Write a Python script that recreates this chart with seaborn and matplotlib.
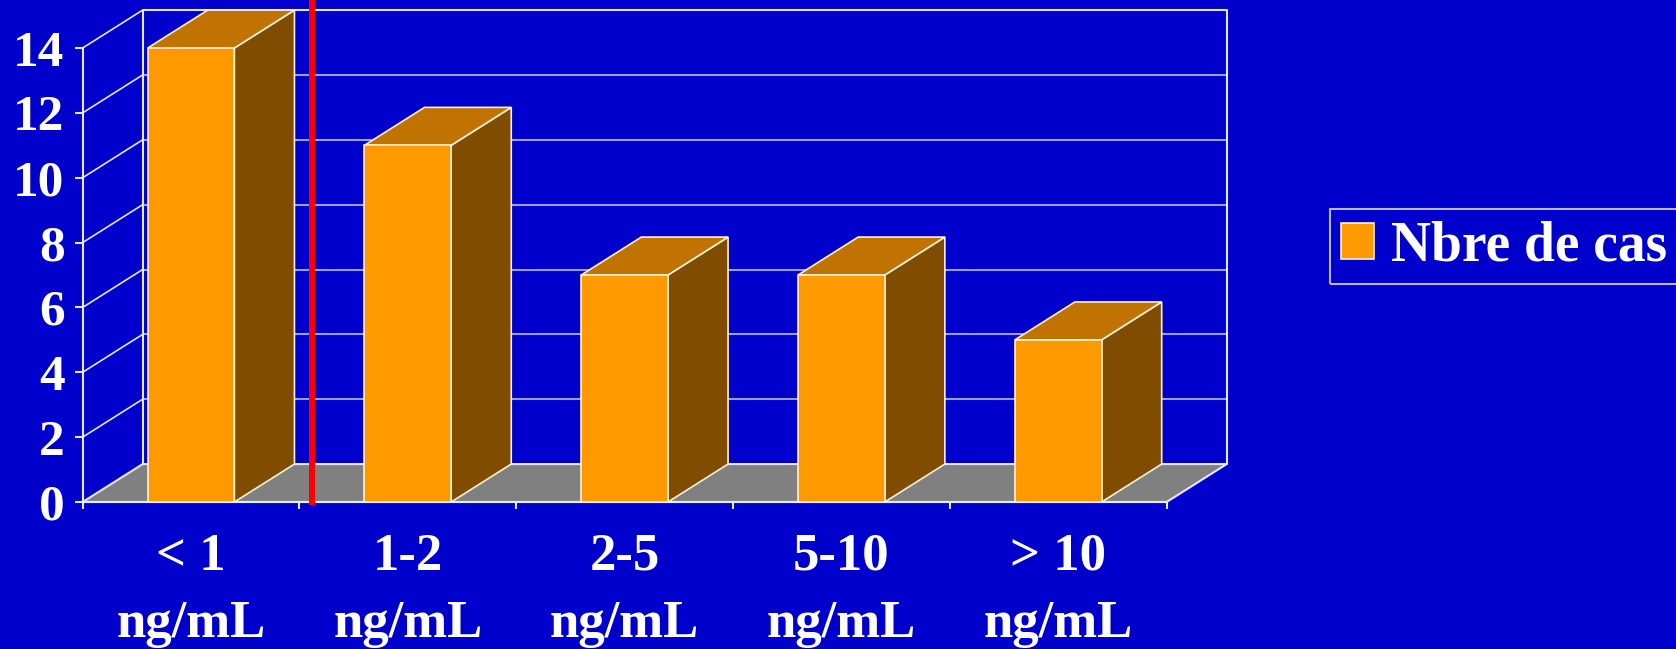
import numpy as np
import pandas as pd
import matplotlib
matplotlib.use('Agg')
import matplotlib.pyplot as plt
from matplotlib.patches import Polygon
import seaborn as sns

# data
categories = ['< 1\nng/mL', '1-2\nng/mL', '2-5\nng/mL', '5-10\nng/mL', '> 10\nng/mL']
counts = [14, 11, 7, 7, 5]
y_ticks = [0, 2, 4, 6, 8, 10, 12, 14]
series_name = 'Nbre de cas'
cutoff_pos = 0.56  # red separator between "< 1" and "1-2"

# colours
BG = '#0000CC'
FRONT = '#FF9900'
TOP = '#C07300'
SIDE = '#804C00'
FLOOR = '#808080'
GRID = '#9C9CFF'
FRAME = '#E6E6FF'
EDGE = '#FFF0D8'

# fake 3D depth, in data units (x: categories, y: counts)
DX, DY = 0.277, 1.17

sns.set_theme(style='white')
plt.rcParams['font.family'] = ['Liberation Serif', 'DejaVu Serif']
plt.rcParams['font.weight'] = 'bold'

fig = plt.figure(figsize=(16.76, 6.49), dpi=100, facecolor=BG)
ax = fig.add_axes([0.0493, 0.2265, 0.6468, 0.6995])
ax.set_facecolor('none')

df = pd.DataFrame({'range': categories, 'cas': counts})
sns.barplot(data=df, x='range', y='cas', color=FRONT, saturation=1, width=0.4,
            edgecolor=EDGE, linewidth=1.2, label=series_name, ax=ax, zorder=5)
if ax.get_legend() is not None:
    ax.get_legend().remove()

xmin, xmax = -0.5, len(categories) - 0.5
ymax = y_ticks[-1]
ax.set_xlim(xmin, xmax)
ax.set_ylim(0, ymax)

# floor
floor = Polygon([(xmin, 0), (xmax, 0), (xmax + DX, DY), (xmin + DX, DY)],
                closed=True, facecolor=FLOOR, edgecolor=FRAME, lw=1.5,
                zorder=1, clip_on=False)
ax.add_patch(floor)

# back wall grid + left wall diagonals
for v in y_ticks[1:-1]:
    ax.plot([xmin + DX, xmax + DX], [v + DY, v + DY], color=GRID, lw=1.5,
            zorder=2, clip_on=False)
for v in y_ticks[1:]:
    ax.plot([xmin, xmin + DX], [v, v + DY], color=FRAME, lw=1.2,
            zorder=2, clip_on=False)
ax.plot([xmin + DX, xmin + DX, xmax + DX, xmax + DX],
        [DY, ymax + DY, ymax + DY, DY], color=FRAME, lw=1.5, zorder=2,
        clip_on=False)

# top and side faces of each bar
for p in list(ax.patches)[:len(counts)]:
    x0, w, h = p.get_x(), p.get_width(), p.get_height()
    side = Polygon([(x0 + w, 0), (x0 + w + DX, DY), (x0 + w + DX, h + DY), (x0 + w, h)],
                   closed=True, facecolor=SIDE, edgecolor=EDGE, lw=1.2,
                   zorder=4, clip_on=False)
    top = Polygon([(x0, h), (x0 + w, h), (x0 + w + DX, h + DY), (x0 + DX, h + DY)],
                  closed=True, facecolor=TOP, edgecolor=EDGE, lw=1.2,
                  zorder=4, clip_on=False)
    ax.add_patch(side)
    ax.add_patch(top)

# red cut-off line
ax.plot([cutoff_pos, cutoff_pos], [-0.1, 15.5], color='#FF0000', lw=4.3,
        zorder=6, clip_on=False, solid_capstyle='butt')

# axes styling
for s in ['top', 'right']:
    ax.spines[s].set_visible(False)
for s in ['left', 'bottom']:
    ax.spines[s].set_color(FRAME)
    ax.spines[s].set_linewidth(1.5)
    ax.spines[s].set_zorder(3)

ax.set_yticks(y_ticks)
ax.set_xticks(range(len(categories)), categories)
ax.set_xticks(np.arange(xmin, xmax + 0.5, 1), minor=True)
ax.tick_params(axis='y', colors=FRAME, labelcolor='white', labelsize=37,
               length=6, width=1.5, pad=7, direction='out', left=True)
ax.tick_params(axis='x', which='major', length=0, labelcolor='white',
               labelsize=38, pad=22)
ax.tick_params(axis='x', which='minor', colors=FRAME, length=5, width=1.5,
               direction='out', bottom=True)
for lbl in ax.get_xticklabels():
    lbl.set_linespacing(1.52)
ax.set_xlabel('')
ax.set_ylabel('')

handles, labels = ax.get_legend_handles_labels()
leg = fig.legend(handles, labels, loc='center', bbox_to_anchor=(0.8974, 0.6202),
                 frameon=True, fancybox=False, edgecolor=FRAME, facecolor='none',
                 prop={'size': 40, 'weight': 'bold'}, labelcolor='white',
                 handlelength=0.6, handleheight=0.6, handletextpad=0.3,
                 borderpad=0.2, borderaxespad=0)
leg.get_frame().set_linewidth(1.5)

fig.savefig('out.png', dpi=100, facecolor=BG)
